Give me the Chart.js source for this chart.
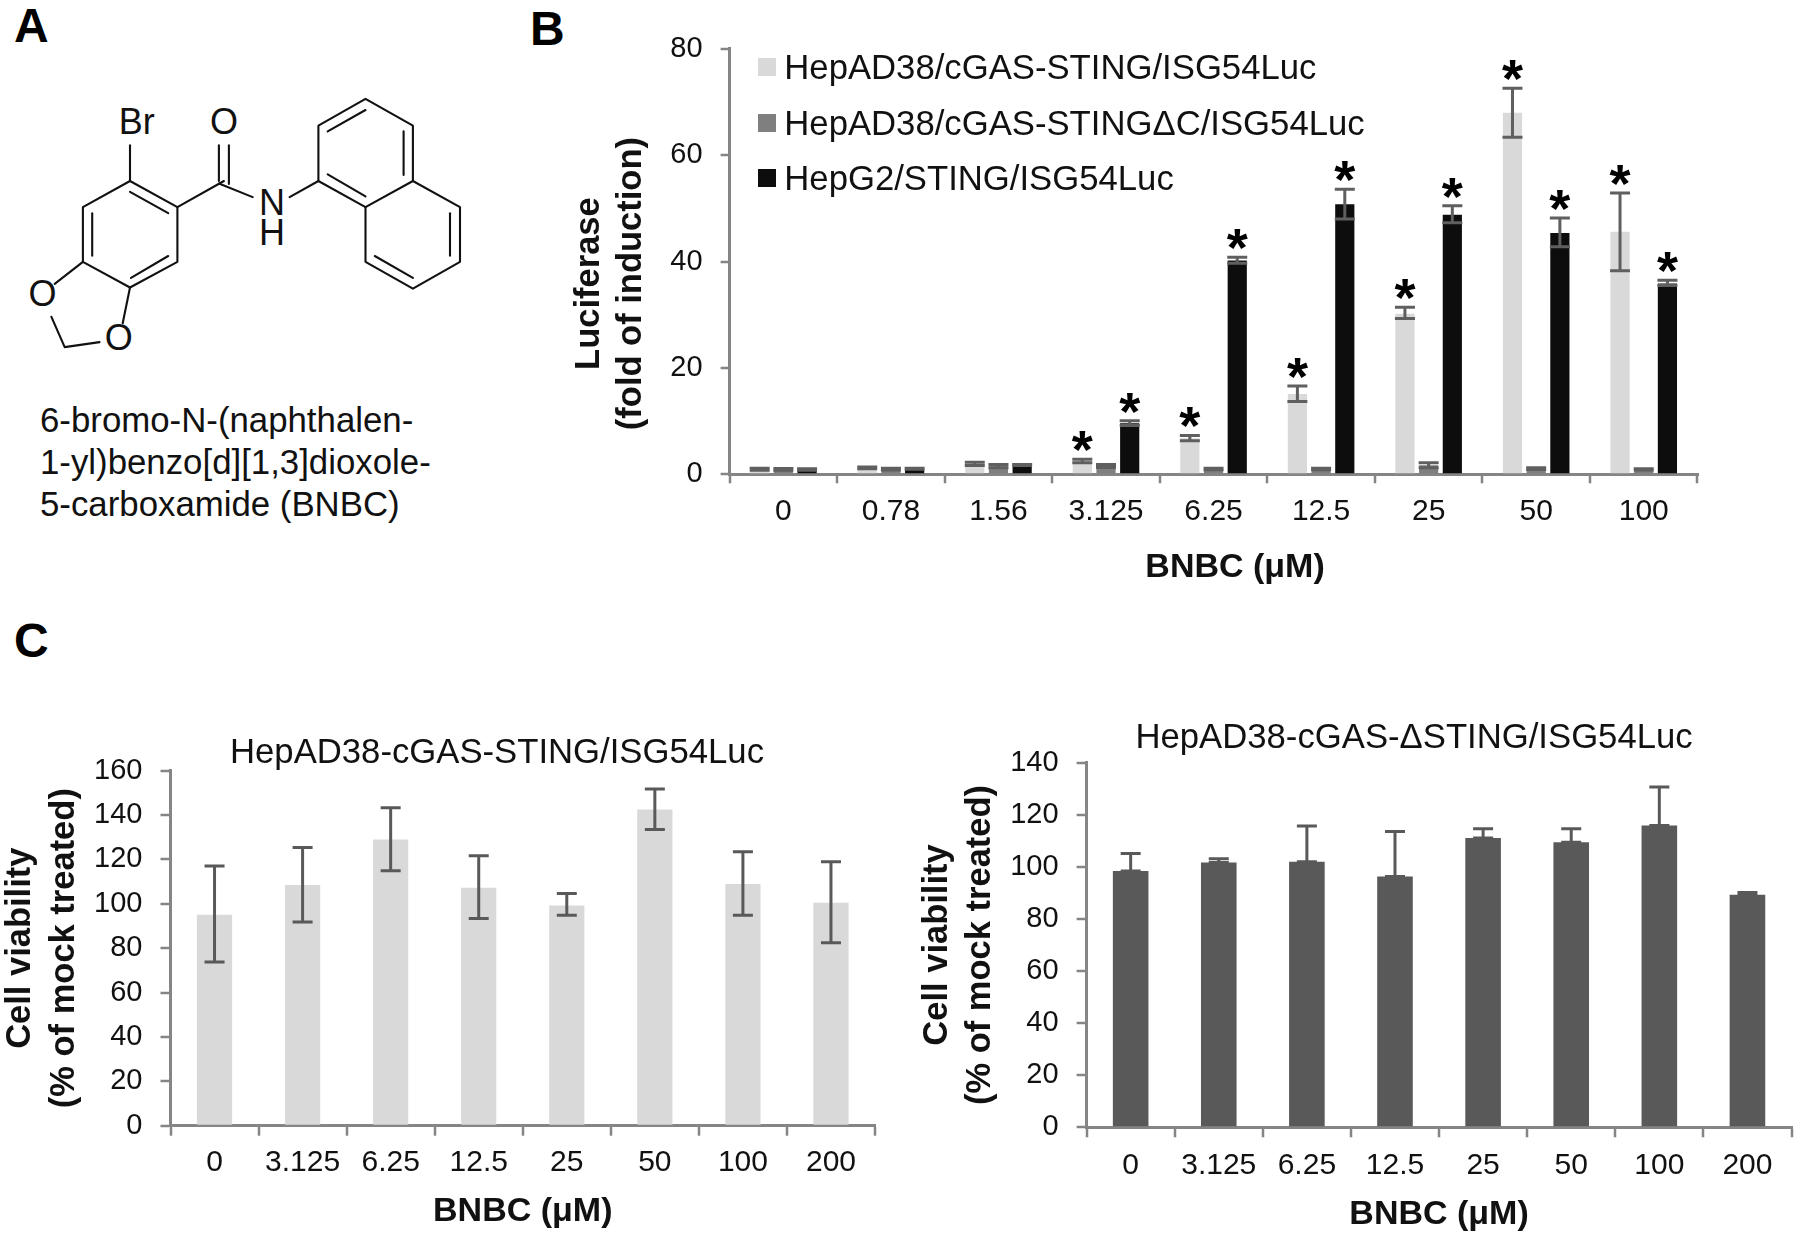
<!DOCTYPE html>
<html lang="en">
<head>
<meta charset="UTF-8" />
<title>BNBC figure</title>
<script src="https://cdn.jsdelivr.net/npm/chart.js"></script>
<style>
  html, body { margin: 0; padding: 0; background: #fff; width: 1800px; height: 1240px; overflow: hidden; }
  body { position: relative; font-family: "Liberation Sans", Arial, sans-serif; color: #111; }
  canvas { position: absolute; }
  #chartB { left: 560px; top: 20px; }
  #chartL { left: -2px; top: 700px; }
  #chartR { left: 905px; top: 690px; }
  .panel { position: absolute; font-size: 48px; line-height: 48px; font-weight: bold; color: #000; }
  .name { position: absolute; left: 40px; font-size: 34.8px; line-height: 42px; white-space: nowrap; }
  .lg { position: absolute; left: 757.8px; height: 40px; font-size: 34.7px; line-height: 40px; white-space: nowrap; }
  .lg i { position: absolute; left: 0; top: 11px; width: 18px; height: 18px; }
  .lg span { position: absolute; left: 26.5px; }
  svg { position: absolute; left: 0; top: 0; }
  svg line, svg polyline { stroke: #111; stroke-width: 2.1; fill: none; stroke-linecap: round; stroke-linejoin: round; }
  svg text { font-size: 36px; fill: #111; text-anchor: middle; }
</style>
</head>
<body>
<div class="panel" style="left:14px;top:2px">A</div>
<div class="panel" style="left:530px;top:5px">B</div>
<div class="panel" style="left:14px;top:617px">C</div>

<svg width="520" height="400">
  <polyline points="130,181 177.4,207.1 177.4,261.8 130,287.5 82.9,261.8 82.9,207.1 130,181" />
  <line x1="92.2" y1="213.2" x2="92.2" y2="255.7" />
  <line x1="130" y1="191.8" x2="168.2" y2="213.2" />
  <line x1="168.2" y1="256" x2="131" y2="277.9" />
  <line x1="130" y1="145.4" x2="130" y2="181" />
  <line x1="177.4" y1="207.1" x2="223.9" y2="181" />
  <line x1="218.9" y1="145.4" x2="218.9" y2="181" />
  <line x1="228.9" y1="145.4" x2="228.9" y2="184" />
  <line x1="218.9" y1="183.5" x2="252.7" y2="197.1" />
  <line x1="289.6" y1="197.1" x2="318.4" y2="181" />
  <polyline points="318.4,181 318.4,125.7 365.5,98.9 412.9,125.7 412.9,181 365.5,207.1 318.4,181" />
  <polyline points="412.9,181 460,207.1 460,261.8 412.9,288.6 365.5,261.8 365.5,207.1" />
  <line x1="327.7" y1="131.4" x2="365.5" y2="110" />
  <line x1="403.6" y1="131.4" x2="403.6" y2="175" />
  <line x1="327.7" y1="174.3" x2="365.5" y2="196.4" />
  <line x1="450" y1="213.2" x2="450" y2="255.7" />
  <line x1="412.9" y1="277.9" x2="374.8" y2="256" />
  <line x1="82.9" y1="261.8" x2="54.7" y2="283.9" />
  <line x1="130" y1="287.5" x2="122.7" y2="323.2" />
  <polyline points="51.4,316.8 64.7,347.1 99.5,342.1" />
  <text x="136.7" y="133.7">Br</text>
  <text x="223.9" y="134.4">O</text>
  <text x="272" y="214.8">N</text>
  <text x="272" y="245">H</text>
  <text x="42.5" y="305.9">O</text>
  <text x="118.7" y="349.8">O</text>
</svg>
<div class="name" style="top:399px">6-bromo-N-(naphthalen-</div>
<div class="name" style="top:441px">1-yl)benzo[d][1,3]dioxole-</div>
<div class="name" style="top:483px">5-carboxamide (BNBC)</div>

<canvas id="chartB" width="1180" height="580" style="width:1180px;height:580px"></canvas>
<canvas id="chartL" width="902" height="540" style="width:902px;height:540px"></canvas>
<canvas id="chartR" width="895" height="550" style="width:895px;height:550px"></canvas>
<div id="legendB"></div>

<script>
// panel B, fold induction
const doseB = ['0', '0.78', '1.56', '3.125', '6.25', '12.5', '25', '50', '100'];
const labelsB = ['HepAD38/cGAS-STING/ISG54Luc', 'HepAD38/cGAS-STING\u0394C/ISG54Luc', 'HepG2/STING/ISG54Luc'];
const cgas = [1.0, 1.2, 2.0, 2.5, 6.8, 15.1, 30.2, 68.0, 45.6];
const cgasHi = [1.15, 1.35, 2.25, 2.85, 7.3, 16.6, 31.4, 72.6, 52.9];
const cgasLo = [0.75, 1.05, 1.65, 2.15, 6.3, 13.7, 29.3, 63.4, 38.3];
const cgasStar = [0, 0, 0, 1, 1, 1, 1, 1, 1];
const delta = [0.9, 1.0, 1.5, 1.6, 1.0, 1.0, 1.7, 1.1, 0.9];
const deltaHi = [1.1, 1.15, 1.85, 1.85, 1.15, 1.15, 2.15, 1.25, 1.05];
const deltaLo = [0.75, 0.8, 1.25, 1.3, 0.85, 0.85, 1.25, 0.9, 0.8];
const deltaStar = [0, 0, 0, 0, 0, 0, 0, 0, 0];
const hepg2 = [0.9, 1.0, 1.7, 9.6, 40.2, 50.8, 48.8, 45.4, 35.9];
const hepg2Hi = [1.05, 1.15, 1.85, 10.05, 40.8, 53.6, 50.5, 48.2, 36.5];
const hepg2Lo = [0.75, 0.95, 1.65, 9.2, 39.7, 48.0, 47.3, 42.8, 35.5];
const hepg2Star = [0, 0, 0, 1, 1, 1, 1, 1, 1];

// panel C, viability
const doseC = ['0', '3.125', '6.25', '12.5', '25', '50', '100', '200'];
const viaLeft = [95.1, 108.5, 129, 107.3, 99.2, 142.5, 108.9, 100.5];
const viaLeftHi = [117, 125.4, 143.3, 121.7, 104.6, 151.8, 123.5, 119];
const viaLeftLo = [73.8, 91.8, 114.9, 93.4, 94.8, 133.5, 94.8, 82.5];
const viaRight = [98.4, 101.7, 102, 96.3, 111.1, 109.5, 115.9, 89.3];
const viaRightHi = [105.1, 103.1, 115.7, 113.6, 114.6, 114.6, 130.7, 90.2];

const LIGHT = '#d9d9d9', MID = '#7f7f7f', BLACK = '#0d0d0d', DARK = '#595959';
const AXIS = '#858585';

Chart.defaults.font.family = '"Liberation Sans", Arial, sans-serif';
Chart.defaults.color = '#111';
Chart.defaults.animation = false;

// error bars and stars, drawn on top of the bars
const errorBars = {
  id: 'errorBars',
  afterDatasetsDraw(chart, args, opts) {
    const ctx = chart.ctx, y = chart.scales.y;
    ctx.save();
    chart.data.datasets.forEach((ds, i) => {
      chart.getDatasetMeta(i).data.forEach((bar, j) => {
        const top = y.getPixelForValue(ds.errHi[j]);
        const low = y.getPixelForValue(ds.errLo[j]);
        const half = opts.cap / 2;
        ctx.strokeStyle = opts.color;
        ctx.lineWidth = 3;
        ctx.beginPath();
        ctx.moveTo(bar.x, top); ctx.lineTo(bar.x, low);
        ctx.moveTo(bar.x - half, top); ctx.lineTo(bar.x + half, top);
        ctx.moveTo(bar.x - half, low); ctx.lineTo(bar.x + half, low);
        ctx.stroke();
        if (ds.star && ds.star[j]) {
          ctx.fillStyle = '#000';
          ctx.font = 'bold 54px "Liberation Sans"';
          ctx.textAlign = 'center';
          ctx.textBaseline = 'alphabetic';
          ctx.fillText('*', bar.x, top + 9);
        }
      });
    });
    ctx.restore();
  }
};

// the original titles sit a bit off centre
function shifted(obj, name, dx, dy) {
  const orig = obj[name];
  obj[name] = function () {
    this.ctx.save();
    this.ctx.translate(dx, dy);
    orig.apply(this, arguments);
    this.ctx.restore();
  };
}
const nudge = {
  id: 'nudge',
  afterUpdate(chart, args, opts) {
    if (opts.title) shifted(chart.titleBlock, 'draw', opts.title, 0);
    if (opts.xTitle) shifted(chart.scales.x, 'drawTitle', opts.xTitle, 0);
    if (opts.yTitle) shifted(chart.scales.y, 'drawTitle', 0, opts.yTitle);
  }
};

function axes(o) {
  return {
    x: {
      grid: { drawOnChartArea: false, color: AXIS, lineWidth: 2, tickLength: o.tick, tickWidth: 2.5 },
      border: { color: AXIS, width: 3 },
      ticks: { font: { size: 30 }, color: '#111', padding: o.xPad, autoSkip: false, maxRotation: 0 },
      title: { display: true, text: 'BNBC (\u03bcM)', color: '#111', font: { size: 34, weight: 'bold', lineHeight: 1.2 }, padding: { top: 0, bottom: o.xTitlePad } },
      afterFit(s) { s.height = o.xHeight; }
    },
    y: {
      min: 0, max: o.max,
      grid: { drawOnChartArea: false, color: AXIS, lineWidth: 2, tickLength: o.tick, tickWidth: 2.5 },
      border: { color: AXIS, width: 3 },
      ticks: { stepSize: 20, font: { size: 29 }, color: '#111', padding: o.yPad },
      title: { display: true, text: o.yTitle, color: '#111', font: { size: 34.5, weight: 'bold', lineHeight: o.yLine + 'px' }, padding: { top: o.yTitlePad, bottom: 0 } },
      afterFit(s) { s.width = o.yWidth; s.paddingTop = 0; s.paddingBottom = 0; }
    }
  };
}

const chartB = new Chart(document.getElementById('chartB'), {
  type: 'bar',
  data: {
    labels: doseB,
    datasets: [
      { label: labelsB[0], data: cgas, errHi: cgasHi, errLo: cgasLo, star: cgasStar, backgroundColor: LIGHT },
      { label: labelsB[1], data: delta, errHi: deltaHi, errLo: deltaLo, star: deltaStar, backgroundColor: MID },
      { label: labelsB[2], data: hepg2, errHi: hepg2Hi, errLo: hepg2Lo, star: hepg2Star, backgroundColor: BLACK }
    ]
  },
  options: {
    responsive: false,
    layout: { padding: { top: 28.9, right: 42.5 } },
    datasets: { bar: { categoryPercentage: 0.661, barPercentage: 0.81 } },
    scales: axes({ max: 80, tick: 9, xPad: 10.6, yPad: 18, xHeight: 125.7, yWidth: 169.6,
      yTitle: ['Luciferase', '(fold of induction)'], yLine: 42, yTitlePad: 8.5, xTitlePad: 11.6 }),
    plugins: {
      legend: { display: false }, tooltip: { enabled: false },
      errorBars: { cap: 20, color: '#5f5f5f' },
      nudge: { xTitle: 21.5, yTitle: 22 }
    }
  },
  plugins: [errorBars, nudge]
});

// legend sits inside the plot, so it is built by hand from the datasets
const legendTops = [47.4, 102.8, 158.3];
chartB.data.datasets.forEach((ds, i) => {
  const row = document.createElement('div');
  row.className = 'lg';
  row.style.top = legendTops[i] + 'px';
  const box = document.createElement('i');
  box.style.background = ds.backgroundColor;
  const txt = document.createElement('span');
  txt.textContent = ds.label;
  row.append(box, txt);
  document.getElementById('legendB').append(row);
});

new Chart(document.getElementById('chartL'), {
  type: 'bar',
  data: { labels: doseC, datasets: [{ data: viaLeft, errHi: viaLeftHi, errLo: viaLeftLo, backgroundColor: LIGHT }] },
  options: {
    responsive: false,
    layout: { padding: { right: 25 } },
    datasets: { bar: { categoryPercentage: 1, barPercentage: 0.4 } },
    scales: axes({ max: 160, tick: 10, xPad: 9.2, yPad: 18, xHeight: 114.3, yWidth: 172.5,
      yTitle: ['Cell viability', '(% of mock treated)'], yLine: 44, yTitlePad: 0, xTitlePad: 7.6 }),
    plugins: {
      legend: { display: false }, tooltip: { enabled: false },
      title: { display: true, text: 'HepAD38-cGAS-STING/ISG54Luc', color: '#111', font: { size: 34.7, weight: 'normal', lineHeight: 1 }, padding: { top: 36, bottom: 0 } },
      errorBars: { cap: 20, color: DARK },
      nudge: { title: 60.5 }
    }
  },
  plugins: [errorBars, nudge]
});

new Chart(document.getElementById('chartR'), {
  type: 'bar',
  data: { labels: doseC, datasets: [{ data: viaRight, errHi: viaRightHi, errLo: viaRight, backgroundColor: DARK }] },
  options: {
    responsive: false,
    layout: { padding: { right: 8.5 } },
    datasets: { bar: { categoryPercentage: 1, barPercentage: 0.404 } },
    scales: axes({ max: 140, tick: 10, xPad: 10.4, yPad: 18, xHeight: 112.7, yWidth: 181.6,
      yTitle: ['Cell viability', '(% of mock treated)'], yLine: 43, yTitlePad: 10.8, xTitlePad: 4.6 }),
    plugins: {
      legend: { display: false }, tooltip: { enabled: false },
      title: { display: true, text: 'HepAD38-cGAS-\u0394STING/ISG54Luc', color: '#111', font: { size: 34.7, weight: 'normal', lineHeight: 1 }, padding: { top: 30.8, bottom: 7.2 } },
      errorBars: { cap: 20, color: DARK },
      nudge: { title: 65.8 }
    }
  },
  plugins: [errorBars, nudge]
});
</script>
</body>
</html>
